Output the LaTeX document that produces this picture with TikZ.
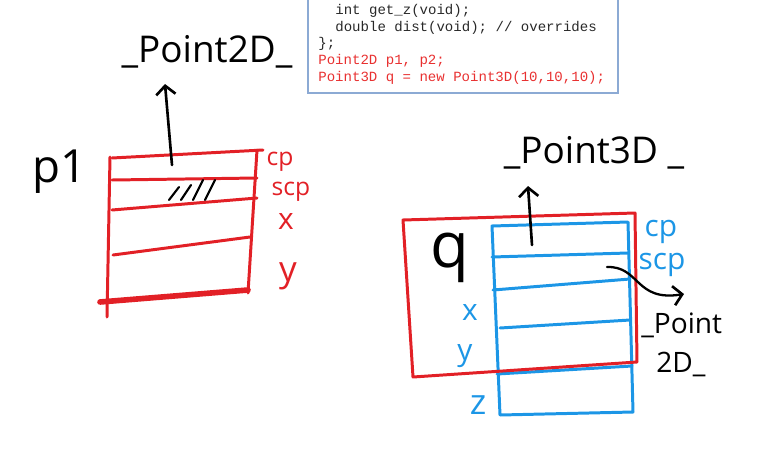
\documentclass[tikz,border=0pt]{standalone}
\usepackage{fontspec}
\setsansfont{Open Sans}
\setmonofont{Liberation Mono}
\usetikzlibrary{arrows.meta}
\definecolor{penred}{RGB}{226,32,38}
\definecolor{penblue}{RGB}{28,150,230}
\definecolor{boxblue}{RGB}{140,170,212}
\definecolor{codered}{RGB}{232,48,48}
\definecolor{codegray}{RGB}{40,40,40}

\begin{document}
\begin{tikzpicture}[
    x=0.02cm, y=-0.02cm,
    redpen/.style={draw=penred, line width=1.7pt, line cap=round, line join=round},
    bluepen/.style={draw=penblue, line width=1.7pt, line cap=round, line join=round},
    blackpen/.style={draw=black, line width=1.5pt, line cap=round},
    arrow/.style={blackpen, -{Straight Barb[length=5pt, width=11pt, line width=1.5pt]}},
    hand/.style={font=\sffamily\fontsize{#1}{#1}\selectfont, inner sep=0pt},
    code/.style={font=\ttfamily\fontsize{8}{9}\selectfont, anchor=west, inner sep=0pt}
]
\useasboundingbox (0,0) rectangle (764,457);

% Code box (cut at the top)
\draw[boxblue, line width=0.8pt] (308,-5) -- (308,93) -- (618,93) -- (618,-5);
\node[code, text=codegray] (c1) at (335,11) {int get\_z(void);};
\node[code, text=codegray] (c2) at (335,28) {double dist(void); // overrides};
\node[code, text=codegray] (c3) at (318,44) {\};};
\node[code, text=codered] (c4) at (318,61) {Point2D p1, p2;};
\node[code, text=codered] (c5) at (318,78) {Point3D q = new Point3D(10,10,10);};

% p1 : a Point2D object
\node[hand=26] (p1) at (60,172) {p1};
\draw[redpen] (112,158) -- (263,150);
\draw[redpen] (110,157) -- (107,317);
\draw[redpen] (257,150) -- (248,293);
\draw[redpen] (112,180) -- (257,178);
\draw[redpen] (112,210) -- (257,198);
\draw[redpen] (113,255) -- (250,237);
\draw[redpen, line width=3.2pt] (100,302) -- (248,290);
\foreach \dx/\h in {0/13, 12/15, 24/20, 36/20}
  \draw[blackpen, line width=1.2pt] (169+\dx,200) -- ++(10,-\h);

% p1 field labels
\node[hand=14, text=penred] (cp1) at (280,162) {cp};
\node[hand=14, text=penred] (scp1) at (291,192) {scp};
\node[hand=17, text=penred] (x1) at (286,222) {x};
\node[hand=20, text=penred] (y1) at (288,276) {y};

% p1 base part
\coordinate (p1top) at (172,165);
\coordinate (p1tip) at (165,84);
\draw[arrow] (p1top) -- (p1tip);
\node[hand=21] (base2d) at (207,52) {\_Point2D\_};

% q : a Point3D object with its Point2D part in red
\node[hand=36] (q) at (450,258) {q};
\draw[bluepen] (492,226) -- (628,222) -- (633,412) -- (500,415) -- cycle;
\draw[bluepen] (492,257) -- (628,253);
\draw[bluepen] (493,290) -- (630,279);
\draw[bluepen] (500,328) -- (630,320);
\draw[bluepen] (497,374) -- (632,366);
\draw[redpen] (403,220) -- (635,213) -- (637,362) -- (413,377) -- cycle;

% q field labels
\node[hand=17, text=penblue] (cpq) at (661,232) {cp};
\node[hand=17, text=penblue] (scpq) at (662,265) {scp};
\node[hand=17, text=penblue] (xq) at (470,313) {x};
\node[hand=17, text=penblue] (yq) at (465,356) {y};
\node[hand=20, text=penblue] (zq) at (478,405) {z};

% q base part
\coordinate (qtop) at (532,245);
\coordinate (qtip) at (528,186);
\draw[arrow] (qtop) -- (qtip);
\node[hand=21] (base3d) at (594,153) {\_Point3D\ \_};

% scp points to the Point2D part
\coordinate (scpfrom) at (607,267);
\coordinate (scpto) at (684,294);
\draw[arrow, line width=1.3pt] (scpfrom) .. controls (640,266) and (635,302) .. (scpto);
\node[hand=16, anchor=west] (part1) at (641,325) {\_Point};
\node[hand=16, anchor=west] (part2) at (656,364) {2D\_};

\end{tikzpicture}
\end{document}
